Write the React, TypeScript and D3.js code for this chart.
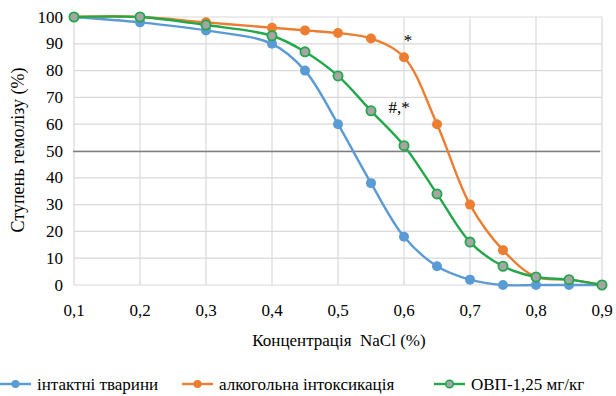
import * as d3 from "d3";

type Pt = { x: number; y: number };

const WIDTH = 616;
const HEIGHT = 396;
const PLOT = { left: 74, right: 602, top: 17, bottom: 285 };

const concentrations = [0.1, 0.2, 0.3, 0.4, 0.45, 0.5, 0.55, 0.6, 0.65, 0.7, 0.75, 0.8, 0.85, 0.9];
const intactValues = [100, 98, 95, 90, 80, 60, 38, 18, 7, 2, 0, 0, 0, 0];
const alcoholValues = [100, 100, 98, 96, 95, 94, 92, 85, 60, 30, 13, 3, 2, 0];
const ovpValues = [100, 100, 97, 93, 87, 78, 65, 52, 34, 16, 7, 3, 2, 0];

const xTicks = [0.1, 0.2, 0.3, 0.4, 0.5, 0.6, 0.7, 0.8, 0.9];
const yTicks = [0, 10, 20, 30, 40, 50, 60, 70, 80, 90, 100];
const seriesNames = ["інтактні тварини", "алкогольна інтоксикація", "ОВП-1,25 мг/кг"];

const FONT = "Times New Roman";
const BLUE = "#5B9BD5";
const ORANGE = "#ED7D31";
const GREEN = "#22A84A";
const GRAY_FILL = "#A5A5A5";

const toPoints = (values: number[]): Pt[] => concentrations.map((c, i) => ({ x: c, y: values[i] }));

function Label(props: { x: number; y: number; size?: number; anchor?: string; transform?: string; children: React.ReactNode }) {
  return (
    <text
      x={props.x}
      y={props.y}
      transform={props.transform}
      textAnchor={props.anchor ?? "start"}
      style={{ fontFamily: FONT, fontSize: `${props.size ?? 17}px`, whiteSpace: "pre" }}
      fill="#000"
    >
      {props.children}
    </text>
  );
}

export default function App() {
  const x = d3.scaleLinear().domain([0.1, 0.9]).range([PLOT.left, PLOT.right]);
  const y = d3.scaleLinear().domain([0, 100]).range([PLOT.bottom, PLOT.top]);
  const line = d3
    .line<Pt>()
    .x((d) => x(d.x))
    .y((d) => y(d.y))
    .curve(d3.curveCatmullRom.alpha(0.5));

  const series = [
    { name: seriesNames[0], points: toPoints(intactValues), color: BLUE, fill: BLUE },
    { name: seriesNames[1], points: toPoints(alcoholValues), color: ORANGE, fill: ORANGE },
    { name: seriesNames[2], points: toPoints(ovpValues), color: GREEN, fill: GRAY_FILL },
  ];

  const legendX = [0, 182, 434];

  return (
    <svg width={WIDTH} height={HEIGHT} style={{ position: "absolute", left: 0, top: 0 }}>
      <rect width={WIDTH} height={HEIGHT} fill="#fff" />
      {yTicks.map((t) => (
        <line key={`gy${t}`} x1={PLOT.left} x2={PLOT.right} y1={y(t)} y2={y(t)} stroke="#D9D9D9" strokeWidth={1.2} />
      ))}
      {xTicks.map((t) => (
        <line key={`gx${t}`} x1={x(t)} x2={x(t)} y1={PLOT.top} y2={PLOT.bottom} stroke="#D9D9D9" strokeWidth={1.2} />
      ))}
      <line x1={PLOT.left - 1} x2={PLOT.right - 2} y1={y(50) + 0.5} y2={y(50) + 0.5} stroke="#7F7F7F" strokeWidth={1.6} />

      {yTicks.map((t) => (
        <Label key={`ty${t}`} x={63} y={y(t) + 5.5} anchor="end">
          {String(t)}
        </Label>
      ))}
      {xTicks.map((t) => (
        <Label key={`tx${t}`} x={x(t)} y={316} anchor="middle">
          {d3.format(".1f")(t).replace(".", ",")}
        </Label>
      ))}
      <Label x={339} y={346} anchor="middle">
        {"Концентрація  NaCl (%)"}
      </Label>
      <Label x={0} y={0} transform="translate(24 150) rotate(-90)" anchor="middle" size={18}>
        Ступень гемолізу (%)
      </Label>

      {series.map((s) => (
        <g key={s.name}>
          <path d={line(s.points) ?? undefined} fill="none" stroke={s.color} strokeWidth={2.4} />
          {s.points.map((p, i) => (
            <circle
              key={i}
              cx={x(p.x)}
              cy={y(p.y)}
              r={s.fill === s.color ? 5 : 4.6}
              fill={s.fill}
              stroke={s.color}
              strokeWidth={s.fill === s.color ? 0 : 1.8}
            />
          ))}
        </g>
      ))}

      <Label x={408} y={46} anchor="middle">
        *
      </Label>
      <Label x={399} y={113} anchor="middle">
        #,*
      </Label>

      {series.map((s, i) => (
        <g key={`lg${i}`} transform={`translate(${legendX[i]} 384)`}>
          <line x1={0} x2={31} y1={0} y2={0} stroke={s.color} strokeWidth={2.4} />
          <circle
            cx={15.5}
            cy={0}
            r={s.fill === s.color ? 4 : 3.8}
            fill={s.fill}
            stroke={s.color}
            strokeWidth={s.fill === s.color ? 0 : 1.6}
          />
          <Label x={37} y={6}>
            {s.name}
          </Label>
        </g>
      ))}
    </svg>
  );
}
